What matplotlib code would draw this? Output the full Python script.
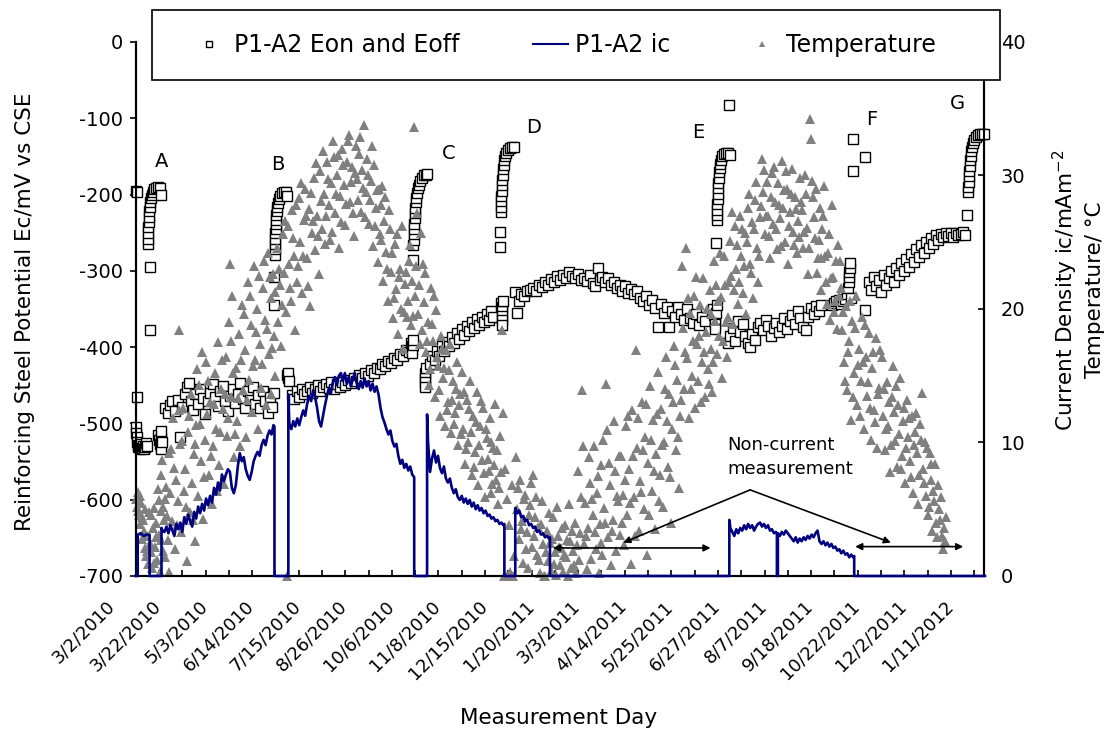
import matplotlib
matplotlib.use("Agg")
import numpy as np
import matplotlib.pyplot as plt
from matplotlib.lines import Line2D
from matplotlib.patches import Rectangle
from matplotlib.transforms import ScaledTranslation

plt.rcParams['font.family'] = 'DejaVu Sans'
plt.rcParams['axes.unicode_minus'] = False

# ---------- data ----------
# x = measurement record number (category axis, one label every 47 records)
day_labels = ["3/2/2010", "3/22/2010", "5/3/2010", "6/14/2010", "7/15/2010",
              "8/26/2010", "10/6/2010", "11/8/2010", "12/15/2010", "1/20/2011",
              "3/3/2011", "4/14/2011", "5/25/2011", "6/27/2011", "8/7/2011",
              "9/18/2011", "10/22/2011", "12/2/2011", "1/11/2012"]
label_step = 47
n_records = 857

# steel potential (Eon / Eoff), mV vs CSE
potential = [
    (0, -195), (1, -197), (1, -465), (0, -505), (0, -512), (1, -518), (1, -524), (2, -528),
    (2, -531), (3, -530), (4, -533), (5, -527), (6, -532), (7, -529), (8, -534), (9, -531),
    (10, -526), (11, -530), (14, -295), (14, -378),
    # A
    (12, -265), (12, -258), (12, -250), (12, -243), (13, -236), (13, -229), (13, -222),
    (14, -216), (14, -210), (15, -205), (16, -200), (17, -196), (18, -193), (20, -191),
    (22, -190), (24, -191), (25, -200),
    (22, -515), (23, -522), (24, -527), (25, -531), (26, -534), (26, -519), (27, -525), (25, -510),
    (30, -480), (33, -487), (35, -476), (37, -471), (40, -484), (43, -469), (45, -518), (47, -478),
    (50, -461), (52, -452), (54, -447), (56, -470), (58, -483), (60, -462), (63, -474), (65, -455),
    (68, -467), (70, -488), (73, -471), (75, -460), (78, -448), (80, -466), (83, -477), (85, -458),
    (88, -451), (90, -470), (93, -484), (95, -464), (98, -455), (100, -473), (103, -462),
    (105, -447), (108, -468), (110, -480), (113, -458), (115, -469), (118, -452), (120, -475),
    (123, -463), (125, -480), (128, -457), (130, -470), (133, -486), (135, -466), (138, -478),
    (140, -460),
    # B
    (140, -345), (140, -308), (141, -279), (141, -272), (141, -265), (141, -258), (141, -251),
    (142, -245), (142, -239), (142, -233), (142, -227), (143, -221), (143, -216), (144, -211),
    (145, -206), (146, -202), (148, -198), (150, -196), (152, -197), (153, -202),
    (153, -437), (154, -441), (154, -434), (155, -444),
    (158, -463), (160, -468), (163, -458), (165, -465), (168, -455), (170, -462), (173, -457),
    (176, -452), (178, -460), (181, -455), (184, -450), (186, -457), (189, -452), (192, -448),
    (195, -454), (197, -446), (200, -455), (203, -448), (206, -452), (208, -446), (211, -450),
    (214, -443), (217, -447), (220, -440), (222, -444), (225, -437), (228, -441), (231, -434),
    (234, -438), (237, -430), (240, -434), (243, -427), (246, -429), (249, -422), (252, -425),
    (255, -418), (258, -421), (261, -414), (264, -417), (267, -409), (270, -412), (273, -404),
    (276, -406),
    # C
    (278, -395), (279, -399), (279, -403), (279, -408), (280, -397), (280, -390),
    (280, -286), (280, -266), (281, -259), (281, -252), (281, -245), (281, -238), (282, -231),
    (282, -224), (282, -217), (283, -210), (283, -204), (284, -198), (285, -192), (286, -187),
    (287, -182), (289, -178), (291, -175), (293, -174), (294, -173),
    (292, -434), (292, -440), (292, -446), (292, -452), (293, -428),
    (297, -422), (299, -412), (302, -417), (304, -405), (306, -411), (309, -399), (311, -405),
    (314, -393), (316, -399), (319, -387), (321, -394), (324, -381), (326, -389), (329, -376),
    (331, -384), (334, -372), (336, -379), (339, -367), (341, -375), (344, -363), (346, -371),
    (349, -360), (351, -367), (354, -356), (356, -364), (359, -352), (361, -360),
    # D
    (369, -342), (370, -347), (370, -353), (370, -359), (370, -365), (370, -371), (371, -340),
    (368, -269), (368, -249), (369, -223), (369, -216), (369, -209), (369, -202), (370, -195),
    (370, -188), (370, -181), (371, -174), (371, -167), (372, -161), (372, -155), (373, -150),
    (374, -146), (376, -142), (378, -139), (380, -137), (382, -137),
    (383, -328), (385, -355), (387, -340), (389, -330), (392, -333), (395, -327), (398, -325),
    (401, -322), (404, -326), (407, -318), (410, -321), (413, -314), (416, -318), (419, -311),
    (422, -314), (425, -307), (428, -312), (431, -305), (434, -309), (437, -302), (440, -307),
    (443, -310), (446, -304), (449, -312), (452, -309), (455, -313), (458, -306), (461, -316),
    (463, -320), (466, -296), (468, -312), (471, -308), (474, -314), (477, -310), (480, -318),
    (483, -315), (486, -322), (489, -318), (491, -326), (494, -320), (497, -329), (500, -324),
    (503, -331), (506, -327), (509, -335), (512, -340), (515, -333), (518, -345), (521, -338),
    (524, -349), (527, -374), (530, -343), (533, -355), (536, -348), (538, -374), (541, -352),
    (544, -360), (547, -347), (550, -357), (553, -365), (556, -350), (559, -362), (562, -368),
    (565, -356), (568, -371), (571, -361), (574, -366),
    # E
    (583, -350), (584, -358), (585, -364), (585, -370), (585, -376), (586, -355), (587, -345),
    (586, -264), (587, -234), (587, -227), (587, -220), (587, -213), (588, -206), (588, -199),
    (588, -192), (588, -185), (589, -178), (589, -171), (590, -165), (590, -160), (591, -155),
    (592, -150), (594, -147), (596, -145), (598, -145), (600, -148), (599, -83),
    (598, -395), (600, -385), (603, -375), (605, -392), (608, -366), (610, -380), (613, -370),
    (615, -386), (618, -395), (620, -400), (622, -383), (625, -390), (628, -373), (630, -368),
    (633, -378), (636, -365), (638, -372), (641, -385), (644, -375), (646, -368), (649, -380),
    (652, -372), (654, -362), (657, -376), (660, -366), (662, -358), (665, -370), (668, -352),
    (670, -362), (673, -374), (676, -378), (678, -360), (681, -349), (684, -356), (686, -346),
    (689, -352), (692, -345),
    # F
    (703, -345), (705, -342), (707, -340), (710, -338), (712, -344), (714, -340), (716, -337),
    (718, -330), (719, -322), (720, -315), (720, -308), (720, -301), (721, -296), (721, -290),
    (722, -335), (724, -127), (736, -151), (724, -169), (736, -351),
    (740, -315), (742, -325), (745, -308), (747, -320), (750, -312), (752, -328), (755, -305),
    (757, -318), (760, -310), (762, -300), (765, -314), (767, -296), (770, -306), (772, -290),
    (775, -300), (777, -284), (780, -295), (782, -278), (785, -288), (787, -272), (790, -282),
    (792, -266), (795, -276), (797, -262), (800, -270), (803, -257), (805, -265), (808, -253),
    (810, -260), (813, -252), (815, -256), (818, -250), (820, -254), (823, -251), (825, -255),
    (828, -250), (830, -253), (833, -252), (835, -249), (837, -253),
    # G
    (839, -227), (840, -196), (840, -190), (841, -183), (841, -176), (841, -169), (842, -162),
    (842, -155), (843, -149), (843, -143), (844, -137), (845, -132), (846, -128), (848, -124),
    (850, -122), (852, -121), (854, -121), (856, -121),
]

# current density ic, mA/m2 (0 = no current measurement)
current = [
    (0, 0), (2, 0), (2, 3.1), (5, 3.2), (8, 3.0), (11, 3.1), (14, 3.1), (14, 0), (26, 0), (26, 3.6),
    (27, 3.4), (29, 3.3), (31, 3.7), (33, 3.2), (35, 3.8), (37, 3.4), (39, 3.0), (41, 3.9),
    (43, 3.5), (45, 4.0), (47, 3.3), (49, 4.4), (51, 3.9), (53, 4.6), (55, 4.1), (57, 3.7),
    (59, 4.8), (61, 4.3), (63, 5.2), (65, 4.7), (67, 5.4), (69, 4.9), (71, 5.8), (73, 5.3),
    (75, 6.0), (77, 5.5), (79, 6.6), (81, 6.1), (83, 7.0), (85, 6.4), (87, 7.6), (89, 7.1),
    (91, 7.6), (93, 8.0), (95, 7.8), (97, 6.6), (99, 6.2), (101, 6.8), (103, 8.2), (105, 9.2),
    (107, 8.6), (109, 8.9), (111, 8.0), (113, 7.5), (115, 7.2), (117, 7.8), (119, 8.6),
    (121, 9.0), (123, 9.3), (125, 9.0), (127, 9.8), (129, 10.2), (131, 9.8), (133, 10.5),
    (135, 10.9), (137, 10.6), (139, 11.3), (140, 11.2), (140, 0), (154, 0),
    (154, 13.6), (155, 11.4), (157, 11.0), (159, 11.6), (161, 11.2), (163, 11.8), (165, 11.3),
    (167, 11.9), (169, 12.4), (171, 12.0), (173, 12.9), (175, 13.5), (177, 13.1), (179, 13.9),
    (181, 13.4), (183, 12.6), (185, 11.6), (187, 11.2), (189, 12.0), (191, 12.8), (193, 13.5),
    (195, 14.1), (197, 13.7), (199, 14.5), (201, 14.9), (203, 14.3), (205, 15.0), (207, 15.2),
    (209, 14.6), (211, 15.2), (213, 14.4), (215, 14.9), (217, 14.2), (219, 14.7), (221, 15.2),
    (223, 14.4), (225, 14.0), (227, 14.6), (229, 14.1), (231, 14.8), (233, 14.2), (235, 14.6),
    (237, 13.9), (239, 14.4), (241, 13.8), (243, 14.2), (245, 13.6), (247, 12.6), (249, 11.9),
    (251, 11.5), (253, 11.0), (255, 10.6), (257, 10.9), (259, 10.1), (261, 9.7), (263, 9.9),
    (265, 9.0), (267, 8.4), (269, 8.7), (271, 8.1), (273, 8.4), (275, 7.9), (277, 8.2),
    (279, 7.6), (281, 7.4), (281, 0), (294, 0),
    (294, 12.1), (295, 10.0), (297, 7.8), (299, 8.8), (301, 9.4), (303, 8.5), (305, 9.0),
    (307, 8.1), (309, 7.7), (311, 8.2), (313, 7.3), (315, 7.0), (317, 7.3), (319, 6.6),
    (321, 6.2), (323, 6.5), (325, 5.9), (327, 5.7), (329, 6.0), (331, 5.5), (333, 5.8),
    (335, 5.4), (337, 5.7), (339, 5.2), (341, 5.5), (343, 5.0), (345, 5.3), (347, 4.9),
    (349, 5.1), (351, 4.7), (353, 4.9), (355, 4.5), (357, 4.6), (359, 4.3), (361, 4.4),
    (363, 4.1), (365, 4.2), (367, 3.9), (369, 4.0), (371, 3.8), (372, 3.9), (372, 0), (383, 0),
    (383, 5.1), (385, 4.7), (387, 4.9), (389, 4.4), (391, 4.5), (393, 4.1), (395, 4.2),
    (397, 3.8), (399, 3.9), (401, 3.6), (403, 3.7), (405, 3.3), (407, 3.4), (409, 3.1),
    (411, 3.2), (413, 2.9), (415, 3.0), (417, 2.8), (418, 2.9), (418, 0), (599, 0),
    (599, 4.2), (600, 3.6), (602, 3.3), (604, 3.0), (606, 3.5), (608, 3.2), (610, 3.6),
    (612, 3.4), (614, 3.8), (616, 3.5), (618, 3.9), (620, 3.6), (622, 3.8), (624, 3.4),
    (626, 3.7), (628, 3.9), (630, 4.0), (632, 3.7), (634, 3.9), (636, 3.6), (638, 3.8),
    (640, 3.4), (642, 3.5), (644, 3.2), (646, 3.3), (647, 3.2), (647, 0), (648, 0),
    (648, 3.2), (650, 3.0), (652, 3.3), (654, 3.1), (656, 3.4), (658, 3.2), (660, 3.0),
    (662, 2.8), (664, 2.6), (666, 2.9), (668, 2.5), (670, 2.8), (672, 2.6), (674, 2.9),
    (676, 2.7), (678, 3.0), (680, 2.8), (682, 3.1), (684, 2.9), (686, 3.2), (688, 3.4),
    (690, 2.6), (692, 2.4), (694, 2.6), (696, 2.3), (698, 2.5), (700, 2.2), (702, 2.4),
    (704, 2.1), (706, 2.2), (708, 1.9), (710, 2.0), (712, 1.7), (714, 1.9), (716, 1.6),
    (718, 1.7), (720, 1.4), (722, 1.6), (724, 1.4), (725, 1.5), (725, 0), (857, 0),
]

# temperature, deg C
temperature = [
    (0, 5.8), (1, 5.2), (2, 6.3), (3, 4.6), (4, 3.9), (5, 5.5), (6, 2.8), (7, 4.2), (8, 3.4),
    (9, 2.1), (10, 1.5), (11, 3.0), (12, 0.9), (13, 4.8), (14, 2.5), (15, 1.8), (16, 0.6),
    (17, 3.6), (18, 5.1), (19, 2.2), (20, 4.0), (21, 1.2), (22, 6.5), (23, 3.1), (24, 0.3),
    (25, 2.7), (26, 7.6), (27, 8.7), (28, 5.2), (29, 4.2), (30, 1.4), (31, 6.7), (33, 2.7),
    (34, 0.3),
    (36, 9.5), (37, 4.1), (38, 11.8), (40, 2.0), (41, 7.2), (43, 5.6), (44, 18.4), (45, 9.9),
    (46, 3.3), (48, 12.6), (49, 6.4), (50, 8.0), (52, 1.1), (53, 10.8), (55, 4.8), (56, 13.6),
    (57, 7.0), (59, 9.1), (60, 2.6), (61, 11.3), (63, 6.0), (64, 14.3), (66, 8.6), (67, 16.8),
    (68, 4.3), (70, 10.2), (71, 16.0), (72, 12.1), (74, 7.6), (75, 13.0), (77, 5.4), (78, 9.7),
    (80, 15.2), (81, 11.0), (83, 17.5), (84, 8.3), (86, 14.0), (88, 12.5), (89, 6.9),
    (91, 16.4), (92, 10.5), (94, 19.0), (95, 23.4), (96, 13.4), (97, 21.0), (99, 8.9),
    (101, 15.6), (102, 11.6), (104, 18.1), (105, 9.7), (107, 20.3), (108, 13.9), (110, 16.9),
    (111, 10.4), (113, 22.0), (114, 14.7), (116, 18.8), (117, 12.3), (119, 23.2), (120, 16.2),
    (122, 20.0), (123, 11.0), (125, 17.4), (126, 14.1), (128, 21.6), (130, 19.2), (131, 12.8),
    (133, 24.2), (134, 16.6), (136, 20.8), (137, 13.6), (139, 22.6), (140, 18.0), (141, 15.0),
    (143, 24.6), (144, 19.0), (146, 21.8), (147, 17.2), (149, 25.6), (150, 22.7), (152, 19.8),
    (153, 0.0), (154, 26.2), (155, 23.4), (157, 20.6), (158, 27.4), (160, 24.0), (161, 18.4),
    (163, 22.0), (165, 28.3), (166, 25.0), (168, 21.2), (170, 26.7), (171, 29.0), (173, 23.8),
    (175, 27.5), (176, 20.2), (178, 25.7), (180, 29.8), (181, 24.4), (183, 27.0), (185, 22.6),
    (186, 30.3), (188, 26.0), (190, 28.6), (191, 24.9), (193, 31.0), (195, 27.8),
    (197, 29.4), (198, 25.8), (200, 31.4), (201, 27.2), (203, 30.0), (205, 24.6), (206, 28.5),
    (208, 32.0), (210, 29.3), (211, 26.3), (213, 31.0), (215, 33.0), (216, 28.0), (218, 30.6),
    (220, 25.5), (222, 32.2), (223, 29.7), (225, 31.6), (227, 27.3), (228, 30.4), (230, 33.8),
    (232, 28.8), (233, 31.2), (235, 26.4), (237, 29.6), (239, 24.7), (240, 30.8), (242, 27.6),
    (244, 23.5), (245, 29.0),
    (247, 27.8), (248, 25.2), (250, 22.1), (252, 28.4), (253, 24.3), (255, 20.6), (257, 26.0),
    (258, 22.8), (260, 19.3), (262, 24.9), (263, 21.5), (265, 18.1), (267, 23.0), (268, 20.0),
    (270, 17.0), (272, 21.9), (274, 19.4), (276, 23.6), (278, 18.8), (281, 33.6), (282, 21.0),
    (284, 27.2), (285, 19.6), (287, 17.4),
    (288, 25.7), (290, 23.4), (291, 20.5), (293, 16.8), (295, 19.0), (296, 14.3), (298, 21.6),
    (300, 17.6), (302, 13.4), (303, 19.9), (305, 15.7), (307, 12.0), (308, 18.0), (310, 14.8),
    (312, 11.2), (313, 16.9), (315, 13.0), (317, 17.4), (318, 10.7), (320, 14.6), (322, 12.2),
    (324, 16.0), (325, 9.8), (327, 13.6),
    (329, 15.3), (330, 11.0), (332, 8.4), (334, 13.2), (335, 10.0), (337, 14.6), (339, 7.6),
    (340, 12.0), (342, 9.3), (344, 13.8), (345, 6.8), (347, 11.2), (349, 8.7), (350, 12.6),
    (352, 5.9), (354, 10.3), (356, 7.9), (357, 11.8), (359, 6.2), (361, 9.6), (363, 12.9),
    (364, 7.2), (366, 5.4), (368, 10.5),
    (370, 18.4), (371, 12.2), (372, 0.0), (373, 8.0), (374, 0.0), (375, 5.8), (376, 0.0),
    (377, 3.8), (378, 0.3), (379, 0.0), (380, 6.8), (381, 0.0), (382, 1.5),
    (384, 8.9), (385, 5.0), (387, 2.8), (388, 7.2), (390, 4.1), (391, 1.0), (393, 6.1),
    (395, 3.3), (396, 0.6), (398, 5.3), (400, 2.2), (401, 7.6), (403, 4.4), (405, 1.6),
    (406, 3.7), (408, 0.2), (410, 5.6), (411, 2.4), (412, 0.0), (413, 0.0),
    (415, 3.4), (416, 1.1), (418, 2.5), (419, 0.4), (421, 4.4), (423, 1.8), (424, 0.1),
    (426, 3.0), (428, 0.8), (429, 2.1), (431, 0.3), (433, 3.8), (434, 1.4), (436, 0.0),
    (438, 2.6), (439, 0.6), (441, 1.9), (443, 4.0), (444, 0.2), (446, 7.9), (447, 1.2),
    (448, 3.2),
    (450, 13.9), (451, 9.7), (452, 2.4), (453, 5.5), (455, 0.5), (456, 3.6), (458, 7.0),
    (459, 1.3), (461, 4.6), (462, 9.7), (464, 2.0), (465, 6.2), (467, 0.2), (468, 3.9),
    (470, 8.3), (471, 1.6), (473, 5.1), (475, 14.4), (476, 10.9), (477, 2.9), (479, 6.8),
    (480, 0.8), (482, 4.2), (484, 7.9), (485, 1.9), (487, 5.6), (489, 3.1),
    (490, 9.0), (492, 6.1), (493, 2.3), (495, 11.2), (496, 4.6), (498, 8.0), (500, 0.9),
    (501, 12.4), (503, 5.9), (505, 16.9), (506, 9.6), (508, 3.4), (509, 7.1), (511, 13.0),
    (513, 5.0), (514, 10.4), (516, 1.6), (517, 8.5), (519, 14.2), (521, 6.4), (522, 11.7),
    (524, 3.5), (525, 9.1), (527, 15.3), (529, 7.6), (530, 12.5), (532, 5.2), (533, 10.0),
    (535, 16.4), (537, 8.2), (538, 13.6), (540, 4.0), (541, 11.0), (543, 17.2), (545, 9.4),
    (546, 14.7), (548, 6.6), (549, 12.0),
    (551, 23.2), (552, 18.6), (553, 14.0), (555, 24.6), (556, 16.3), (558, 11.8), (559, 19.7),
    (561, 15.0), (563, 21.0), (564, 12.6), (566, 17.4), (567, 14.6), (569, 20.3), (571, 16.0),
    (572, 22.3), (574, 13.4), (575, 18.3), (577, 15.5), (579, 21.4), (580, 17.0), (582, 13.8),
    (584, 23.6), (585, 19.1), (587, 16.6), (588, 20.6), (590, 24.2),
    (592, 14.8), (593, 17.6), (595, 21.8), (597, 16.4), (598, 19.4), (600, 25.1), (601, 22.5),
    (603, 18.9), (605, 26.2), (606, 23.0), (608, 20.4), (610, 27.0), (611, 24.0), (613, 21.2),
    (615, 25.7), (616, 19.6), (618, 27.6), (620, 23.4), (622, 26.5), (623, 20.8), (625, 28.2),
    (627, 24.6), (628, 22.0), (630, 26.9),
    (632, 31.2), (633, 28.8), (635, 25.6), (637, 29.5), (638, 27.0), (640, 23.8), (642, 30.2),
    (643, 26.4), (645, 28.0), (647, 24.5), (648, 29.4), (650, 26.8), (652, 31.1), (653, 27.6),
    (655, 25.0), (657, 29.0), (658, 23.4), (660, 27.3), (662, 30.5), (663, 25.8), (665, 28.4),
    (667, 24.2), (668, 26.6), (670, 29.8),
    (672, 27.4), (673, 24.6), (675, 30.0), (677, 26.1), (678, 22.6), (680, 34.2), (681, 32.7),
    (683, 28.4), (685, 25.3), (686, 29.0), (688, 23.8), (690, 27.6), (691, 21.4), (693, 26.0),
    (695, 29.2), (696, 24.0), (698, 20.4), (700, 25.6), (702, 22.3), (703, 27.8), (705, 19.8),
    (707, 23.6), (709, 24.8), (710, 21.0),
    (712, 21.6), (713, 18.4), (715, 16.0), (717, 20.2), (718, 13.9), (720, 17.6), (722, 11.7),
    (723, 19.1), (725, 15.2), (727, 21.0), (728, 12.8), (730, 17.0), (732, 14.6), (733, 19.4),
    (735, 11.0), (737, 16.4), (738, 13.5), (740, 18.2), (742, 10.2), (743, 15.6), (745, 12.4),
    (747, 17.8), (748, 9.6), (750, 14.1),
    (753, 16.4), (754, 12.0), (756, 9.4), (758, 14.5), (759, 11.2), (761, 7.8), (763, 13.4),
    (764, 15.7), (766, 10.1), (768, 8.2), (769, 12.8), (771, 14.8), (773, 9.0), (774, 11.6),
    (776, 7.0), (778, 13.2), (779, 10.4), (781, 8.6), (783, 12.0), (784, 6.2), (786, 10.8),
    (788, 9.2), (789, 5.4), (791, 11.4),
    (793, 13.7), (794, 8.0), (796, 10.0), (797, 6.0), (799, 4.6), (801, 9.2), (802, 7.2),
    (804, 3.4), (806, 5.6), (807, 8.4), (809, 2.9), (810, 6.8), (812, 4.2), (813, 5.9),
    (815, 2.0), (816, 3.6),
    # second reading of the dense cloud
    (2, 4.9), (4, 6.0), (6, 4.4), (9, 5.0), (11, 1.9), (13, 2.2), (15, 4.6), (18, 1.0),
    (20, 2.9), (23, 5.7), (25, 4.9), (28, 1.9), (30, 5.8), (32, 4.5), (34, 9.2),
    (35, 6.2), (39, 8.1), (42, 3.8), (44, 12.4), (47, 10.1), (51, 5.2), (54, 12.0), (58, 4.2),
    (60, 9.9), (62, 15.5), (65, 11.4), (69, 7.4), (73, 14.6), (76, 9.0), (79, 12.9), (82, 6.4),
    (85, 10.8), (87, 16.2), (90, 13.6), (93, 11.8), (96, 17.6), (98, 15.2), (100, 10.6),
    (103, 13.3), (106, 16.2), (109, 19.6), (112, 13.2), (115, 21.0), (118, 15.7), (121, 18.3),
    (124, 22.5), (127, 15.9), (129, 23.6), (132, 18.5), (135, 22.4), (138, 17.1), (141, 21.3),
    (145, 23.0), (148, 20.3), (151, 26.6), (156, 21.6), (159, 25.3), (162, 27.8), (164, 23.2),
    (167, 29.4), (169, 24.0), (172, 27.0), (174, 21.7), (177, 28.7), (179, 26.6), (182, 30.9),
    (184, 25.5), (187, 28.1), (189, 31.8), (192, 27.0), (194, 29.7), (196, 25.2),
    (199, 32.6), (202, 28.6), (204, 31.5), (207, 26.5), (209, 30.8), (212, 27.9), (214, 32.6),
    (217, 29.5), (219, 27.2), (221, 30.2), (224, 28.2), (226, 32.9), (229, 29.1), (231, 26.9),
    (234, 30.0), (236, 28.2), (238, 32.2), (241, 26.2), (243, 28.9), (246, 25.6),
    (249, 29.2), (251, 26.6), (254, 23.0), (256, 27.4), (259, 24.2), (261, 20.8), (264, 25.6),
    (266, 22.4), (269, 26.2), (271, 19.8), (273, 22.8), (275, 20.6), (277, 24.8), (279, 22.1),
    (280, 19.5), (283, 23.2), (286, 21.8),
    (289, 18.4), (292, 22.7), (294, 17.6), (297, 15.5), (299, 18.9), (301, 21.0), (304, 16.4),
    (306, 13.9), (309, 17.0), (311, 15.6), (314, 12.4), (316, 15.4), (319, 13.2), (321, 11.4),
    (323, 14.0), (326, 12.8), (328, 10.6),
    (331, 13.8), (333, 9.5), (336, 12.5), (338, 10.8), (341, 8.2), (343, 11.5), (346, 9.8),
    (348, 13.1), (351, 7.7), (353, 11.0), (355, 8.8), (358, 10.0), (360, 6.9), (362, 8.3),
    (365, 9.4), (367, 6.6), (369, 7.8),
    (386, 6.6), (389, 3.5), (392, 5.8), (394, 2.0), (397, 4.6), (399, 7.0), (402, 3.0),
    (404, 5.9), (407, 1.2), (409, 3.9),
    (414, 1.8), (417, 4.7), (420, 2.8), (422, 0.9), (425, 5.2), (427, 2.2), (430, 3.6),
    (432, 1.6), (435, 2.7), (437, 5.4), (440, 3.4), (442, 0.8), (445, 2.3), (449, 5.9),
    (454, 3.0), (457, 8.9), (460, 5.8), (463, 3.3), (466, 7.5), (469, 2.5), (472, 10.2),
    (474, 4.0), (478, 8.5), (481, 3.4), (483, 11.6), (486, 6.0), (488, 9.0),
    (491, 4.0), (494, 7.2), (497, 12.0), (499, 5.5), (502, 9.0), (504, 3.0), (507, 11.8),
    (510, 6.3), (512, 9.4), (515, 12.9), (518, 4.6), (520, 10.2), (523, 7.9), (526, 12.1),
    (528, 5.6), (531, 9.8), (534, 14.0), (536, 11.6), (539, 7.4), (542, 13.0), (544, 15.8),
    (547, 10.4), (550, 13.2),
    (554, 16.8), (557, 20.8), (560, 14.0), (562, 17.6), (565, 22.4), (568, 18.0), (570, 13.0),
    (573, 16.8), (576, 20.0), (578, 14.4), (581, 19.6), (583, 16.0), (586, 21.8), (589, 18.0),
    (591, 20.9), (594, 24.0), (596, 19.0), (599, 22.0), (602, 27.3), (604, 21.4), (607, 24.8),
    (609, 22.0), (612, 26.0), (614, 23.2), (617, 25.0), (619, 28.6), (621, 22.7), (624, 26.0),
    (626, 29.5), (629, 24.0), (631, 27.7),
    (634, 30.4), (636, 27.0), (639, 25.5), (641, 28.4), (644, 30.6), (646, 26.0), (649, 27.8),
    (651, 24.7), (654, 28.9), (656, 30.3), (659, 26.2), (661, 28.6), (664, 24.8), (666, 27.5),
    (669, 25.4), (671, 28.0),
    (674, 25.8), (676, 28.6), (679, 24.6), (682, 29.6), (684, 26.9), (687, 22.7), (689, 25.2),
    (692, 23.8), (694, 27.0), (697, 22.0), (699, 24.2), (701, 19.2), (704, 22.4), (706, 20.6),
    (708, 18.5), (711, 23.6),
    (714, 19.8), (716, 14.6), (719, 16.8), (721, 20.6), (724, 13.4), (726, 18.6), (729, 15.8),
    (731, 12.0), (734, 16.0), (736, 18.8), (739, 14.5), (741, 12.6), (744, 16.8), (746, 11.5),
    (749, 13.6), (751, 16.9),
    (755, 14.0), (757, 11.0), (760, 13.0), (762, 9.8), (765, 12.3), (767, 14.2), (770, 10.6),
    (772, 8.0), (775, 12.6), (777, 9.6), (780, 11.8), (782, 7.4), (785, 9.8), (787, 12.2),
    (790, 7.6), (792, 10.2),
    (795, 7.0), (798, 9.6), (800, 5.2), (803, 8.4), (805, 6.4), (808, 4.0), (811, 5.0),
    (814, 3.0), (817, 2.6), (818, 4.4),
]

# period letters (record, mV)
period_marks = [("A", 26, -157), ("B", 143, -161), ("C", 316, -146), ("D", 401, -112),
                ("E", 568, -118), ("F", 743, -102), ("G", 829, -80)]

e_day, e_mv = np.array(potential).T
i_day, i_val = np.array(current).T
t_day, t_c = np.array(temperature).T

# ---------- figure ----------
fig = plt.figure(figsize=(11.08, 7.29), dpi=100)
ax = fig.add_axes([0.1225, 0.2099, 0.7656, 0.7325])
ax2 = ax.twinx()

ax.plot(e_day, e_mv, 's', ms=6.5, mfc='white', mec='black', mew=1.0, clip_on=False, zorder=3)
ax2.plot(t_day, t_c, '^', ms=7, color='#808080', mew=0, clip_on=False, zorder=2)
ax2.plot(i_day, i_val, color='#000080', lw=1.9, clip_on=False, zorder=3)

ax.set_xlim(0, n_records - 1)
ax.set_ylim(-700, 0)
ax2.set_ylim(0, 40)
ax.set_yticks(np.arange(-700, 1, 100))
ax2.set_yticks(np.arange(0, 41, 10))

major = np.arange(len(day_labels)) * label_step
ax.set_xticks(major)
ax.set_xticks(np.arange(0, major[-1] + 1, label_step / 2), minor=True)

for a in (ax, ax2):
    a.spines['top'].set_visible(False)
    for s in ('left', 'right', 'bottom'):
        a.spines[s].set_linewidth(1.5)

ax.tick_params(axis='y', direction='out', length=4, width=1.2, labelsize=14, pad=5)
ax2.tick_params(axis='y', direction='in', length=4.5, width=1.2, labelsize=14, pad=12)
ax.tick_params(axis='x', which='both', direction='in', length=4, width=1.2, labelsize=13, pad=20)

ax.set_xticklabels(day_labels, rotation=45, ha='right', va='center', rotation_mode='anchor')
shift = ScaledTranslation(-24 / 100, 0, fig.dpi_scale_trans)
for lab in ax.get_xticklabels():
    lab.set_transform(lab.get_transform() + shift)

ax.set_xlabel('Measurement Day', fontsize=15.5)
ax.xaxis.set_label_coords(0.498, -0.266)
ax.xaxis.label.set_va('center')
ax.set_ylabel('Reinforcing Steel Potential Ec/mV vs CSE', fontsize=15.5)
ax.yaxis.set_label_coords(-0.1305, 0.494)
ax.yaxis.label.set_va('center')
ax2.set_ylabel('Current Density ic/mAm$^{-2}$\nTemperature/ °C', fontsize=15.5,
               linespacing=1.3, multialignment='center')
ax2.yaxis.set_label_coords(1.111, 0.536)
ax2.yaxis.label.set_va('center')

for letter, x, y in period_marks:
    ax.text(x, y, letter, fontsize=14, ha='center', va='center')

# non-current measurement periods
arrow = dict(color='black', lw=1.2, mutation_scale=10, shrinkA=0, shrinkB=0)
ax2.annotate('', xy=(421, 2.1), xytext=(580, 2.1), arrowprops=dict(arrowstyle='<|-|>', **arrow))
ax2.annotate('', xy=(726, 2.2), xytext=(835, 2.2), arrowprops=dict(arrowstyle='<|-|>', **arrow))
ax2.annotate('', xy=(492, 2.5), xytext=(620, 6.45), arrowprops=dict(arrowstyle='-|>', **arrow))
ax2.annotate('', xy=(762, 2.5), xytext=(620, 6.45), arrowprops=dict(arrowstyle='-|>', **arrow))
ax2.text(597, 8.9, 'Non-current\nmeasurement', fontsize=13, ha='left', va='center', linespacing=1.4)

# legend in its own box above the plot
fig.patches.append(Rectangle((152 / 1108, 1 - 80 / 729), 848 / 1108, 70 / 729,
                             transform=fig.transFigure, facecolor='white', edgecolor='black',
                             lw=1.2, zorder=5))
handles = [Line2D([], [], ls='none', marker='s', ms=5, mfc='white', mec='black', mew=1.0),
           Line2D([], [], color='#000080', lw=1.5),
           Line2D([], [], ls='none', marker='^', ms=5, color='#808080', mew=0)]
leg = fig.legend(handles, ['P1-A2 Eon and Eoff', 'P1-A2 ic', 'Temperature'],
                 loc='center', bbox_to_anchor=(0.509, 0.938), ncol=3, frameon=False,
                 fontsize=17, handlelength=1.5, handletextpad=0.3, columnspacing=3.1)
leg.set_zorder(6)

fig.savefig('out.png', dpi=100)
